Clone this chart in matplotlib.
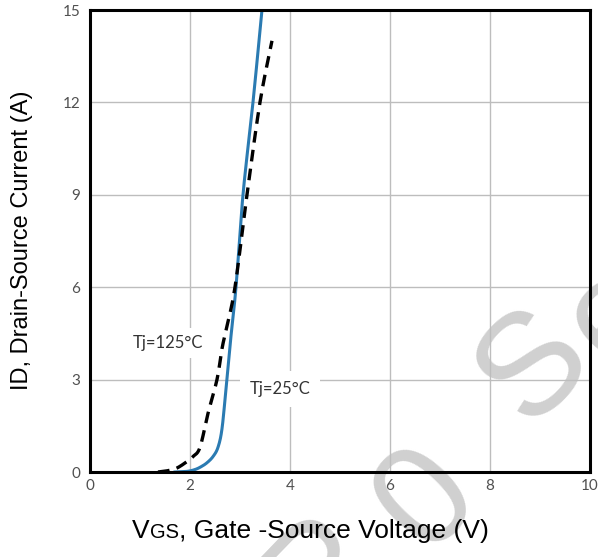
import matplotlib.pyplot as plt
import numpy as np

# --- transfer characteristic ---
vgs_25 = [1.70, 1.94, 2.10, 2.22, 2.34, 2.46, 2.56, 2.64, 2.72, 2.80, 2.92, 3.06, 3.26, 3.44]
id_25 = [0.0, 0.02, 0.08, 0.17, 0.30, 0.50, 0.80, 1.40, 2.70, 4.10, 6.0, 9.0, 12.0, 15.0]

vgs_125 = [1.36, 1.55, 1.74, 1.95, 2.06, 2.20, 2.36, 2.54, 2.64, 2.72, 2.90, 3.14, 3.40, 3.64]
id_125 = [0.0, 0.04, 0.13, 0.35, 0.50, 0.80, 1.90, 3.00, 4.00, 4.60, 6.0, 9.0, 12.0, 14.0]

x_ticks = [0, 2, 4, 6, 8, 10]
y_ticks = [0, 3, 6, 9, 12, 15]

blue = '#2b7bb2'
tick_font = 'Lato'
label_font = 'Liberation Sans'


def smooth(x, y):
    # Catmull-Rom through the read points
    pts = np.column_stack([x, y]).astype(float)
    P = np.vstack([pts[0], pts, pts[-1]])
    xs, ys = [], []
    for i in range(1, len(P) - 2):
        p0, p1, p2, p3 = P[i - 1], P[i], P[i + 1], P[i + 2]
        for s in np.linspace(0, 1, 15, endpoint=False):
            pt = 0.5 * ((2 * p1) + (-p0 + p2) * s + (2 * p0 - 5 * p1 + 4 * p2 - p3) * s ** 2
                        + (-p0 + 3 * p1 - 3 * p2 + p3) * s ** 3)
            xs.append(pt[0])
            ys.append(pt[1])
    xs.append(pts[-1][0])
    ys.append(pts[-1][1])
    return np.array(xs), np.clip(np.array(ys), 0, None)


fig = plt.figure(figsize=(5.98, 5.57), dpi=100)
ax = fig.add_axes([0.1505, 0.1526, 0.836, 0.8294])
ax.set_zorder(1)
ax.set_facecolor('none')

# watermark letters, behind everything
W, H = 598, 557
for ch, px, py in [('P', 322, 572), ('0', 428, 500), ('S', 535, 368), ('e', 615, 315)]:
    fig.text(px / W, 1 - py / H, ch, fontsize=104, color='#d0d0d0',
             rotation=46, ha='center', va='center', family=label_font, zorder=0)

xs, ys = smooth(vgs_25, id_25)
ax.plot(xs, ys, color=blue, linewidth=2.2, zorder=3)
xs, ys = smooth(vgs_125, id_125)
ax.plot(xs, ys, color='black', linewidth=2.4, linestyle=(0, (3.5, 2.2)), zorder=3)

ax.text(0.86, 4.2, 'Tj=125°C', fontsize=12, family=tick_font, color='#333333', va='center',
        bbox=dict(facecolor='white', edgecolor='none', pad=5), zorder=2)
ax.text(3.2, 2.7, 'Tj=25°C', fontsize=12, family=tick_font, color='#333333', va='center',
        bbox=dict(facecolor='white', edgecolor='none', pad=7), zorder=2)

ax.set_xlim(0, 10)
ax.set_ylim(0, 15)
ax.set_xticks(x_ticks)
ax.set_yticks(y_ticks)
ax.grid(True, color='#bdbdbd', linewidth=1.0)
ax.set_axisbelow(True)
ax.tick_params(length=0, labelsize=11, labelcolor='#505050')
ax.tick_params(axis='x', pad=5)
ax.tick_params(axis='y', pad=7)
for lab in ax.get_xticklabels() + ax.get_yticklabels():
    lab.set_family(tick_font)
for sp in ax.spines.values():
    sp.set_linewidth(2.2)
    sp.set_color('black')
    sp.set_zorder(4)

# axis titles (the "GS" of VGS is set in smaller caps)
v = fig.text(0.221, 0.034, 'V', fontsize=19, family=label_font, va='baseline', zorder=3)
gs = fig.text(0, 0, 'GS', fontsize=14.5, family=label_font, va='baseline', zorder=3)
rest = fig.text(0, 0, ', Gate -Source Voltage (V)', fontsize=19, family=label_font,
                va='baseline', zorder=3)
fig.canvas.draw()
inv = fig.transFigure.inverted()
bb = v.get_window_extent()
gs.set_position((inv.transform((bb.x1, 0))[0], 0.034))
bb = gs.get_window_extent()
rest.set_position((inv.transform((bb.x1, 0))[0], 0.034))

fig.text(0.037, 0.569, 'ID, Drain-Source Current (A)', fontsize=17, family=label_font,
         rotation=90, ha='center', va='center', zorder=3)

fig.savefig('out.png', dpi=100)
